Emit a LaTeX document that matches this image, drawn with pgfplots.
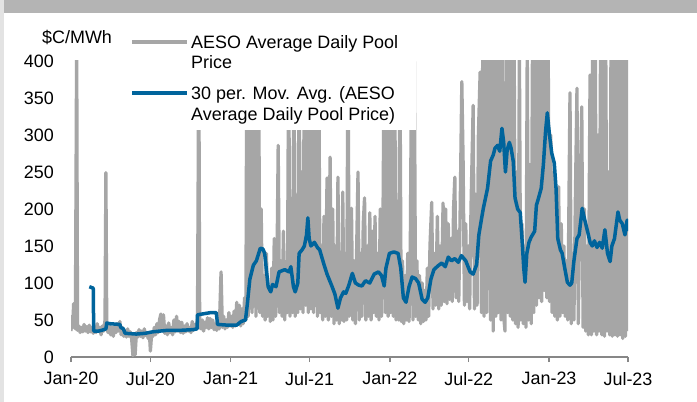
\documentclass[border=0pt]{standalone}
\usepackage{fontspec}
\setmainfont{Liberation Sans}
\usepackage{pgfplots}
\pgfplotsset{compat=1.18}
\definecolor{poolgray}{HTML}{A6A6A6}
\definecolor{mablue}{HTML}{00649C}
\definecolor{axgray}{HTML}{878787}
\definecolor{barGray}{HTML}{B4B4B4}
\definecolor{edgeGray}{HTML}{E3E3E3}

% x = days since 1 Jan 2020
\pgfplotstableread{
d v
0 35
2 55
4 40
6 72
8 45
10 38
13 430
15 36
18 42
21 33
24 40
27 34
30 44
33 35
36 41
39 33
42 43
45 34
48 40
51 32
54 38
57 33
60 45
63 35
66 40
69 30
72 42
75 35
78 50
80 249
82 40
85 33
88 44
91 30
94 40
97 28
100 42
103 33
106 45
109 35
112 48
115 30
118 40
121 28
124 36
127 27
130 38
133 28
136 34
139 25
142 2
145 30
147 3
150 33
153 27
156 37
159 28
162 35
165 26
168 38
171 29
174 33
177 25
180 30
182 8
185 32
188 28
191 40
194 30
197 45
200 33
203 50
206 58
209 35
212 57
215 32
218 42
221 30
224 46
227 33
230 40
233 30
236 50
239 34
242 55
245 35
248 48
251 33
254 47
257 32
260 42
263 34
266 45
269 35
272 40
275 33
278 48
281 36
284 44
287 38
290 52
293 420
295 42
298 38
301 50
304 35
307 47
310 40
313 53
316 38
319 52
322 40
325 50
328 37
331 45
334 36
337 48
340 38
344 115
347 40
350 55
353 38
356 50
359 40
362 60
365 42
368 55
371 40
374 62
377 42
380 74
383 45
386 70
389 42
392 65
395 45
398 80
401 50
403 420
406 55
409 100
412 420
415 60
418 150
421 420
424 55
427 130
430 420
433 60
436 200
439 55
442 110
445 50
448 140
451 55
454 95
457 48
460 120
463 50
466 160
469 55
472 110
475 286
478 60
481 130
484 55
487 170
490 50
493 120
496 60
499 420
502 55
505 180
508 60
511 420
514 55
517 150
520 60
523 420
526 65
529 250
532 60
535 420
538 70
541 420
544 60
547 420
550 65
553 420
556 60
559 180
562 420
565 55
568 420
571 60
574 150
577 50
580 190
583 55
587 242
590 50
594 270
597 55
600 200
603 45
606 150
609 50
612 243
615 45
618 130
621 50
623 223
626 48
629 140
632 50
635 420
638 55
640 160
643 201
646 50
649 130
652 45
655 150
658 250
661 50
664 140
667 55
670 180
673 215
676 50
679 150
682 55
685 195
688 50
691 170
694 60
697 190
700 55
703 140
706 50
709 200
712 55
715 160
718 420
721 60
724 420
727 55
730 420
733 60
736 420
739 55
742 420
745 50
748 150
751 50
754 420
757 48
760 130
763 45
766 110
769 50
772 140
775 48
778 160
781 420
784 50
787 420
790 55
793 130
796 50
799 110
802 45
805 100
808 48
811 90
814 50
817 120
820 55
823 150
827 209
830 65
833 140
836 70
840 190
843 65
846 150
849 70
853 208
856 75
859 200
862 72
865 180
868 78
871 160
874 75
877 200
880 243
883 80
886 170
889 75
892 190
896 372
899 263
902 70
905 180
908 75
911 150
914 65
917 200
922 340
925 65
928 220
931 70
934 300
938 385
941 60
944 420
947 55
950 420
953 60
956 300
959 420
962 50
965 420
968 35
971 420
974 55
977 420
980 60
983 420
986 50
989 420
992 55
995 35
998 420
1001 60
1004 420
1007 55
1010 420
1013 50
1016 420
1019 45
1022 250
1025 40
1028 420
1031 50
1034 180
1037 45
1040 150
1043 40
1046 420
1049 50
1052 260
1055 45
1058 420
1061 60
1064 420
1067 70
1070 420
1073 80
1076 420
1079 75
1082 420
1085 90
1088 420
1091 80
1094 420
1097 75
1100 300
1103 60
1106 250
1109 55
1112 200
1115 50
1118 230
1121 55
1124 180
1127 60
1130 150
1133 55
1136 130
1139 50
1144 357
1147 45
1150 140
1153 50
1156 200
1160 363
1163 45
1166 180
1171 338
1174 40
1177 200
1180 35
1183 150
1186 30
1190 381
1193 30
1196 420
1199 35
1202 420
1205 30
1208 300
1211 35
1214 420
1217 30
1220 420
1223 28
1226 420
1229 35
1232 250
1235 30
1238 420
1241 28
1244 420
1247 30
1250 420
1253 28
1256 420
1259 30
1262 420
1265 25
1268 420
1271 28
1274 420
1277 35
}\pooltable

\pgfplotstableread{
d v
42 95
51 93
52 35
63 35
70 36
80 38
82 46
89 45
112 44
114 40
120 38
124 32
150 31
170 32
187 34
220 36
250 36
280 37
289 38
290 57
300 58
310 59
320 60
333 60
336 44
360 43
380 43
390 48
400 50
404 70
410 105
418 124
425 130
434 147
440 146
444 140
452 95
458 88
462 98
470 95
477 115
490 118
500 115
504 122
510 95
514 88
520 100
523 140
530 145
535 150
540 165
543 188
546 160
550 150
558 155
565 148
570 145
580 125
587 112
598 96
605 85
612 66
618 80
625 88
630 86
637 97
645 113
652 100
660 97
667 96
675 103
685 100
695 112
705 115
712 110
718 96
722 120
730 140
740 142
750 140
756 120
762 80
768 74
775 95
782 108
790 106
797 100
805 78
812 74
818 80
825 105
832 118
841 123
850 127
858 122
865 135
872 130
880 133
888 128
895 137
905 130
915 115
922 112
930 125
935 165
945 200
955 228
962 265
968 273
972 282
978 286
983 278
988 309
992 290
996 250
1000 280
1005 290
1009 282
1014 264
1018 215
1024 200
1030 195
1035 150
1038 120
1041 101
1045 140
1050 155
1055 162
1063 170
1067 205
1072 215
1078 228
1083 260
1088 305
1092 330
1097 300
1102 276
1108 262
1112 228
1116 160
1122 145
1126 140
1132 120
1138 101
1144 97
1148 100
1153 130
1160 160
1165 165
1172 201
1176 190
1180 180
1185 168
1190 155
1195 150
1200 157
1206 148
1212 155
1218 147
1224 172
1230 140
1236 129
1240 150
1246 160
1254 196
1258 185
1264 180
1270 165
1275 185
1277 170
}\avgtable

\begin{document}
\fontsize{18}{21}\selectfont
\begin{tikzpicture}
\useasboundingbox (0,0) rectangle (697bp,402bp);
\fill[white] (0,0) rectangle (697bp,402bp);
\fill[edgeGray] (0,0) rectangle (4bp,402bp);
\fill[barGray] (4bp,389bp) rectangle (697bp,402bp);

\begin{axis}[
  at={(71bp,45bp)}, anchor=south west,
  scale only axis, width=557bp, height=296bp,
  xmin=0, xmax=1277, ymin=0, ymax=400,
  axis x line*=bottom, axis y line*=left,
  axis line style={-},
  y axis line style={draw=none},
  x axis line style={draw=axgray, line width=1.3bp},
  xtick={0,182,366,547,731,912,1096,1277},
  xticklabels={Jan-20,Jul-20,Jan-21,Jul-21,Jan-22,Jul-22,Jan-23,Jul-23},
  ytick={0,50,...,400},
  ytick style={draw=none},
  xtick style={draw=axgray, line width=1.3bp},
  tick align=outside, major tick length=5bp,
  ticklabel style={font=\fontsize{18}{21}\selectfont, text=black},
  /pgf/number format/assume math mode=true,
  yticklabel style={xshift=-6bp},
  xticklabel style={yshift=-4bp},
]
\addplot[poolgray, line width=3.3bp, line join=round] table[x=d, y=v] {\pooltable};
\addplot[mablue, line width=3.5bp, line join=round] table[x=d, y=v] {\avgtable};
\end{axis}

% legend box (opaque, covers the plot)
\fill[white] (122bp,272bp) rectangle (416bp,376bp);
\draw[poolgray, line width=3.3bp] (132bp,360bp) -- (187bp,360bp);
\draw[mablue, line width=3.5bp] (132bp,309bp) -- (187bp,309bp);
\node[anchor=base west, inner sep=0] at (191bp,353.5bp) {AESO Average Daily Pool};
\node[anchor=base west, inner sep=0] at (191bp,333bp) {Price};
\node[anchor=base west, inner sep=0] at (191bp,302bp) {30 per. Mov. Avg. (AESO};
\node[anchor=base west, inner sep=0] at (191bp,281bp) {Average Daily Pool Price)};
\node[anchor=base west, inner sep=0] at (42bp,358bp) {\$C/MWh};
\end{tikzpicture}
\end{document}
